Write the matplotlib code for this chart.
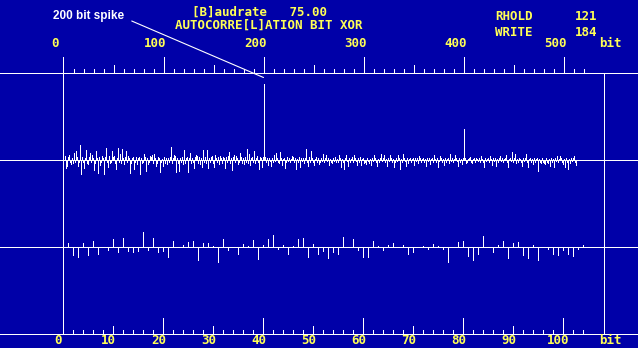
import numpy as np
import matplotlib.pyplot as plt

# screen colours of the old analyser display
BG = "#0000a8"
YEL = "#ffff55"
FG = "white"

# autocorrelation (bit XOR) per lag, lags 0..512, in screen pixels (+ = up)
xor_corr = [
    2, 4, -8, -6, 3, 5, -2, -4, 2, -3, 7, -2, 9, 3, -6, -2, 15, -14, 3, -2,
    -8, 2, 10, -3, -4, 3, 7, -2, 5, 2, -10, -3, 9, 2, -13, 3, -5, -2, 4, 2,
    -14, 3, 12, -2, -7, 4, -3, -2, 9, 3, 4, -3, -9, 2, 12, -2, 6, -3, 11, 2,
    -4, 3, 9, -2, 4, 2, -13, -3, 2, 3, -9, -2, 3, -4, 2, 3, -14, 2, -3, -2,
    6, 3, -11, 2, -4, -2, 4, 3, 5, -3, 6, 2, -6, -3, 3, 2, -12, -2, 1, -6,
    3, -3, 2, -4, 2, -2, 3, 13, -3, 2, 5, 4, -12, 2, -3, -11, 2, -2, 3, -4,
    10, -3, 2, 3, -12, 2, 7, -3, 2, -2, -8, 3, 5, 4, -3, 3, -4, 2, -7, 10,
    -2, 3, -3, 10, -8, 2, -2, 3, 4, -3, -7, 5, 2, -2, 3, -4, 4, 2, -3, 3,
    2, -8, 3, -2, 4, 8, -3, 2, -10, 3, 5, -2, 4, 2, -4, -2, 7, 3, -3, 2,
    -4, 3, -2, 11, -3, 6, -5, 2, 3, -2, 9, -3, 2, 4, -2, -9, 3, 2, -7, 3,
    76, 3, -2, 2, -5, 2, -1, -6, 2, -2, 5, -1, 7, 2, -2, -3, 8, 2, -5, 1,
    2, -8, -2, 3, -1, 2, -2, 1, 4, 3, -2, 2, -9, 1, -2, 3, -7, 2, -1, 2,
    -3, 2, 11, -2, -6, 3, -2, 9, 2, -2, -5, 1, 3, -2, 2, -4, -2, 2, -1, 6,
    -2, 2, 5, -1, 2, -5, 1, -2, -3, 2, -1, 3, -2, 1, -2, 5, 2, -7, 1, -2,
    -9, 2, 5, -1, -6, 2, -2, 1, 3, -2, 5, 2, -1, -5, 2, -2, 3, -5, 1, 2,
    -3, -2, -4, 2, -1, -3, 1, -5, 2, -1, 5, 2, -2, -6, 1, -2, 2, 6, -1, 2,
    5, -2, 1, -6, 2, -1, 5, 2, -2, 1, -7, -2, 2, -1, 5, 2, -9, 1, -2, 6,
    2, -1, -6, 2, -3, 1, 2, -2, 1, 2, -5, 2, -1, 2, -3, 4, 2, -2, 1, 2,
    -2, 1, -6, 2, -1, 2, -4, 1, 2, -2, 5, 1, -2, 2, -7, -1, 4, 2, -2, 1,
    -5, 2, -2, 1, 2, -3, 6, -1, 2, -2, 1, 5, 2, -1, -6, 2, -2, 1, -4, 2,
    31, 2, -3, -2, 1, 2, 3, -2, -3, 1, 2, -2, 2, 1, -1, 2, -2, 4, 1, -2,
    -7, 2, -1, 1, 2, -2, 4, 1, -5, 2, -1, 2, -6, 1, -2, 2, 4, -1, 2, -2,
    1, 2, 5, -2, -7, 1, 2, -1, 8, -2, 2, 6, -3, 1, -2, 2, 1, -2, -6, 2,
    -1, 2, 6, -2, -7, 1, 2, -2, 1, -4, 2, -2, 1, 2, -11, 1, -2, -3, 2, -2,
    -3, -4, 2, -2, -3, 1, -6, 2, -2, 1, -7, 2, -1, 4, -2, 1, 4, 2, -2, -4,
    1, -7, 2, -2, -9, 1, -3, 2, -1, 2, 4, -2, -5,
]
lags = np.arange(len(xor_corr))

# lower trace, units 1..104
unit_corr = [
    4, -8, -10, 4, -8, 6, -7, 0, -3, 8, -5, 9, -4, -5, -4, 15, -3, 9, -5, -4,
    -10, 6, 0, 2, 5, 6, -13, 4, 4, 1, -15, 8, -3, 0, -7, 3, 1, 7, -12, 2,
    8, 12, -2, 2, -7, 1, 8, 9, -10, 3, -7, -4, -11, -5, -7, 10, 0, 8, -3, -10,
    -10, 6, 1, -3, 2, 4, 0, 2, -7, -5, 0, 1, -2, 3, 1, -2, -15, 0, 5, 6,
    -9, -13, -7, 11, 0, -5, 2, 6, -11, 4, 5, -8, -11, 2, -13, 0, -2, -7, -8, -3,
    -7, -9, -2, 2,
]
units = np.arange(1, len(unit_corr) + 1)

top_labels = [0, 100, 200, 300, 400, 500]
bottom_labels = [0, 10, 20, 30, 40, 50, 60, 70, 80, 90, 100]

W, H = 638, 348
fig = plt.figure(figsize=(W / 100, H / 100), dpi=100)
fig.patch.set_facecolor(BG)

# upper axes: 1 px per bit lag, zero line of the middle trace at row 159
ax = fig.add_axes([0, 0, 1, 1])
ax.set_xlim(-63.5, W - 63.5)
ax.set_ylim(159.5 - H, 159.5)
# lower axes: 5 px per unit, zero line at row 246
bx = fig.add_axes([0, 0, 1, 1])
bx.set_xlim(-63.5 / 5, (W - 63.5) / 5)
bx.set_ylim(246.5 - H, 246.5)
for a in (ax, bx):
    a.axis("off")
    a.patch.set_alpha(0)

LW = 0.72  # one screen pixel
line_kw = dict(colors=FG, lw=LW, antialiased=False)
txt_kw = dict(color=YEL, family="DejaVu Sans Mono", weight="bold", fontsize=9)

# top scale
top_y = 87
ax.axhline(top_y, color=FG, lw=LW, antialiased=False)
ticks = np.arange(10, 530, 10)
tick_len = np.where(ticks % 100 == 0, 16, np.where(ticks % 50 == 0, 8, 4))
ax.vlines(ticks, top_y, top_y + tick_len, **line_kw)
for v in top_labels:
    ax.text(v - 8, 116, str(v), ha="center", va="center", **txt_kw)
ax.text(547, 116, "bit", ha="center", va="center", **txt_kw)

# frame verticals
ax.vlines(0, 159 - 333, 159 - 56, **line_kw)
ax.vlines(540, 159 - 333, top_y, **line_kw)

# middle trace
ax.axhline(0, color=FG, lw=LW, antialiased=False)
ax.vlines(lags, 0, xor_corr, **line_kw)

# lower trace + bottom scale
bx.axhline(0, color=FG, lw=LW, antialiased=False)
bx.vlines(units, 0, unit_corr, **line_kw)
bot_y = -87
bx.axhline(bot_y, color=FG, lw=LW, antialiased=False)
bticks = np.arange(2, 106, 2)
btick_len = np.where(bticks % 20 == 0, 16, np.where(bticks % 10 == 0, 8, 4))
bx.vlines(bticks, bot_y, bot_y + btick_len, **line_kw)
for v in bottom_labels:
    bx.text(v - 1, -94, str(v), ha="center", va="center", **txt_kw)
bx.text(109.4, -94, "bit", ha="center", va="center", **txt_kw)

# header
fig.text(192 / W, 1 - 12 / H, "[B]audrate   75.00", ha="left", va="center", **txt_kw)
fig.text(175 / W, 1 - 25 / H, "AUTOCORRE[L]ATION BIT XOR", ha="left", va="center", **txt_kw)
fig.text(495 / W, 1 - 17 / H, "RHOLD", ha="left", va="center", **txt_kw)
fig.text(575 / W, 1 - 17 / H, "121", ha="left", va="center", **txt_kw)
fig.text(495 / W, 1 - 32 / H, "WRITE", ha="left", va="center", **txt_kw)
fig.text(575 / W, 1 - 32 / H, "184", ha="left", va="center", **txt_kw)

# annotation of the 200 bit spike
ax.annotate("200 bit spike", xy=(200, 82), xytext=(61, 144),
            ha="right", va="center", color=FG, fontsize=8.5, weight="bold",
            family="Liberation Sans",
            arrowprops=dict(arrowstyle="-", color=FG, lw=0.8,
                            shrinkA=3.5, shrinkB=0, relpos=(1, 0.3)))

fig.savefig("out.png", dpi=100, facecolor=BG)
